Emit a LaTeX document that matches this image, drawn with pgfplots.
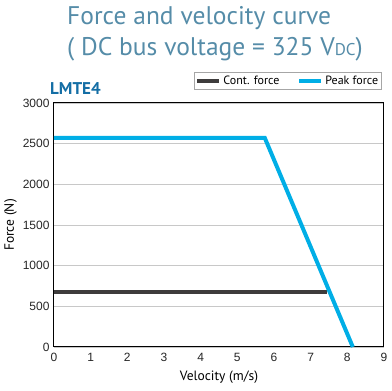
\documentclass[border=0pt]{standalone}
\usepackage{pgfplots}
\pgfplotsset{compat=1.18}
\usepackage{fontspec}
\setmainfont{Liberation Sans}
\newfontfamily\dinfont{PT Sans}
\definecolor{titleblue}{RGB}{85,140,168}
\definecolor{lmblue}{RGB}{20,110,165}
\definecolor{peak}{RGB}{0,174,230}
\definecolor{cont}{RGB}{62,60,60}
\definecolor{gridgray}{RGB}{200,200,200}
\begin{document}
\begin{tikzpicture}
\path[use as bounding box] (-54pt,-44pt) rectangle (338pt,347pt);
\begin{axis}[
  at={(0,0)}, anchor=south west,
  scale only axis, width=330pt, height=244pt,
  xmin=0, xmax=9, ymin=0, ymax=3000,
  xtick={0,...,9}, ytick={0,500,...,3000},
  ymajorgrids, major grid style={gridgray, line width=0.9pt},
  axis line style={line width=1pt, black},
  tick style={draw=none},
  tick label style={font=\fontsize{12}{14}\selectfont, text=black!85},
  yticklabel style={xshift=-1pt},
  xticklabel style={yshift=-3pt},
  /pgf/number format/assume math mode=true,
  /pgf/number format/1000 sep={},
  xlabel={\dinfont Velocity (m/s)}, ylabel={\dinfont Force (N)},
  label style={font=\fontsize{13.5}{15}\selectfont},
  xlabel style={yshift=-2pt},
  ylabel style={yshift=-1pt},
  legend columns=2,
  legend style={at={(0.994,1.127)}, anchor=north east, draw=black!35, line width=0.8pt,
     font=\dinfont\fontsize{12}{13}\selectfont, inner sep=1.5pt,
     /tikz/every even column/.append style={column sep=16pt}},
  legend image code/.code={\draw[#1, line width=4pt] (0pt,0pt) -- (22pt,0pt);},
  clip=false,
]
\addplot[cont, line width=4pt] coordinates {(0,680) (7.45,680)};
\addlegendentry{Cont. force}
\addplot[peak, line width=4pt] coordinates {(0,2570) (5.75,2570) (8.15,0)};
\addlegendentry{Peak force}
\end{axis}
\node[anchor=base west, inner sep=0pt, text=titleblue, font=\dinfont\fontsize{25.5}{28}\selectfont] at (13pt,322pt) {Force and velocity curve};
\node[anchor=base west, inner sep=0pt, text=titleblue, font=\dinfont\fontsize{25.5}{28}\selectfont] at (13pt,291pt) {( DC bus voltage = 325 V{\fontsize{17}{18}\selectfont DC})};
\node[anchor=base west, text=lmblue, font=\dinfont\bfseries\fontsize{17}{19}\selectfont, inner sep=0pt] at (-4pt,252pt) {LMTE4};
\end{tikzpicture}
\end{document}
